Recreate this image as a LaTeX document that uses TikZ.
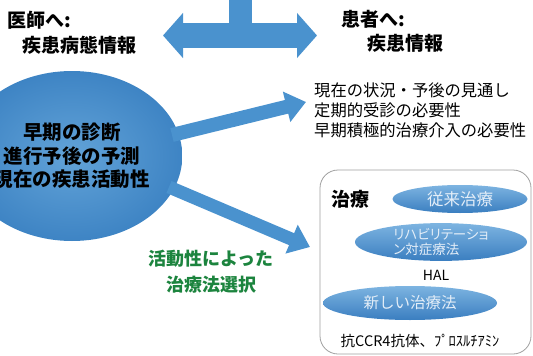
\documentclass[tikz,border=0pt]{standalone}
\usepackage{fontspec}
\setmainfont{Noto Sans CJK JP}
\usetikzlibrary{shapes.geometric,arrows.meta}
\definecolor{arrblue}{RGB}{74,146,206}
\definecolor{blobin}{RGB}{98,163,216}
\definecolor{blobout}{RGB}{62,132,196}
\definecolor{elltop}{RGB}{125,180,225}
\definecolor{ellbot}{RGB}{58,126,192}
\definecolor{elltext}{RGB}{228,238,248}
\definecolor{grtext}{RGB}{28,132,62}
\definecolor{boxline}{RGB}{160,160,160}
\begin{document}
\begin{tikzpicture}[x=1pt,y=-1pt,
  hd/.style={font=\fontsize{19}{22}\selectfont\bfseries, inner sep=0, anchor=west},
  infoline/.style={font=\fontsize{16.3}{18}\selectfont, inner sep=0, anchor=west},
  bub/.style={ellipse, inner sep=0, top color=elltop, bottom color=ellbot, text=elltext},
  arr/.style={draw=arrblue, line width=14pt, -{Triangle[width=30pt,length=20pt]}},
  darr/.style={draw=arrblue, line width=25pt, {Triangle[width=44pt,length=20pt]}-{Triangle[width=44pt,length=20pt]}}]
\useasboundingbox (0,0) rectangle (533,356);
\clip (0,0) rectangle (533,356);

% top T double arrow
\coordinate (tl) at (163,35.5);
\coordinate (tr) at (317,35.5);
\coordinate (st) at (229,-2);
\coordinate (sb) at (252,30);
\fill[arrblue] (st) rectangle (sb);
\draw[darr] (tl) -- (tr);

% headings
\node[hd] (doc1) at (7,20) {医師へ:};
\node[hd] (doc2) at (22,45) {疾患病態情報};
\node[hd] (pat1) at (341,19) {患者へ:};
\node[hd] (pat2) at (367,43) {疾患情報};

% big circle
\node[ellipse, minimum width=194pt, minimum height=170pt, inner sep=0,
      inner color=blobin, outer color=blobout, align=center,
      font=\fontsize{19.5}{23.5}\selectfont\bfseries] (blob) at (72,156)
  {早期の診断\\進行予後の予測\\現在の疾患活動性};

% arrows from circle
\coordinate (a1s) at (172,135);
\coordinate (a1e) at (306,102);
\coordinate (a2s) at (169,187);
\coordinate (a2e) at (310,247);
\draw[arr] (a1s) -- (a1e);
\draw[arr, line width=13pt] (a2s) -- (a2e);

% patient info lines
\node[infoline] (info1) at (314,90.5) {現在の状況・予後の見通し};
\node[infoline] (info2) at (314,110.5) {定期的受診の必要性};
\node[infoline] (info3) at (314,130.5) {早期積極的治療介入の必要性};

% green text
\node[text=grtext, font=\fontsize{18}{26}\selectfont\bfseries, align=center, inner sep=0] (sel) at (211,272)
  {活動性によった\\治療法選択};

% treatment box
\draw[boxline, line width=0.8pt, rounded corners=18pt] (320,170) rectangle (531,354);
\node[hd] (chiryo) at (331,199) {治療};
\node[bub, minimum width=135pt, minimum height=28pt, font=\fontsize{16.5}{18}\selectfont] (e1) at (460,199) {従来治療};
\node[bub, minimum width=172pt, minimum height=36pt, align=left,
      font=\fontsize{13.5}{14.5}\selectfont\addfontfeatures{RawFeature=+palt}] (e2) at (441,242)
  {リハビリテーショ\\ン対症療法};
\node[inner sep=0, font=\fontsize{14}{16}\selectfont] (hal) at (436,275) {HAL};
\node[bub, minimum width=174pt, minimum height=34pt, font=\fontsize{15.5}{18}\selectfont] (e3) at (410,303) {新しい治療法};
\node[inner sep=0, font=\fontsize{14.5}{16}\selectfont] (drug) at (420,341) {抗CCR4抗体、ﾌﾟﾛｽﾙﾁｱﾐﾝ};
\end{tikzpicture}
\end{document}
